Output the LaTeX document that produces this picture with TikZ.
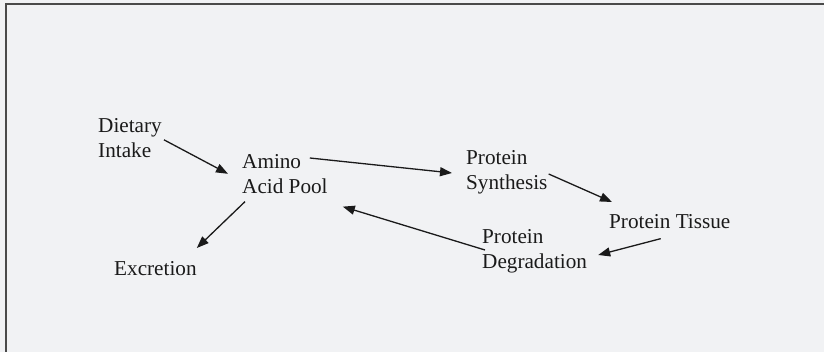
\documentclass[tikz,border=0pt]{standalone}
\usepackage{fontspec}
\setmainfont{Liberation Serif}
\usetikzlibrary{arrows.meta}

\definecolor{paper}{HTML}{F1F2F4}
\definecolor{ink}{HTML}{1A1A1A}
\definecolor{rule}{HTML}{4A4A4A}

\tikzset{
  term/.style={inner sep=0pt, anchor=north west, align=left, text=ink,
    font=\fontsize{21.2}{25}\selectfont},
  flow/.style={-{Triangle[length=12pt,width=9pt]}, line width=1.3pt, draw=ink},
}

\begin{document}
\begin{tikzpicture}[x=1pt,y=1pt]
  \fill [paper] (0,0) rectangle (824,352);
  \useasboundingbox (0,0) rectangle (824,352);
  \draw [rule, line width=2pt] (6,0) -- (6,348) -- (824,348);

  % the pool and what feeds it
  \node (diet)   [term] at (98,234)  {Dietary\\Intake};
  \node (pool)   [term] at (242,198) {Amino\\Acid Pool};
  \node (excr)   [term] at (114,91)  {Excretion};

  % turnover loop
  \node (synth)  [term] at (466,202) {Protein\\Synthesis};
  \node (tissue) [term] at (609,138) {Protein Tissue};
  \node (degr)   [term] at (482,123) {Protein\\Degradation};

  \draw [flow] ([shift={(2,-2)}]diet.east)         to ([xshift=-14pt]pool.west);
  \draw [flow] ([shift={(-18,-4)}]pool.north east) to ([shift={(-14,-1)}]synth.west);
  \draw [flow] ([shift={(3,-8)}]pool.south west)   to ([yshift=13pt]excr.north east);

  \draw [flow] ([shift={(1,-2)}]synth.east)        to ([shift={(3,12)}]tissue.north west);
  \draw [flow] ([shift={(-9,-10)}]tissue.south)    to ([shift={(11,-4)}]degr.east);
  \draw [flow] ([shift={(3,1)}]degr.west)          to ([shift={(15,-13)}]pool.south east);
\end{tikzpicture}
\end{document}
